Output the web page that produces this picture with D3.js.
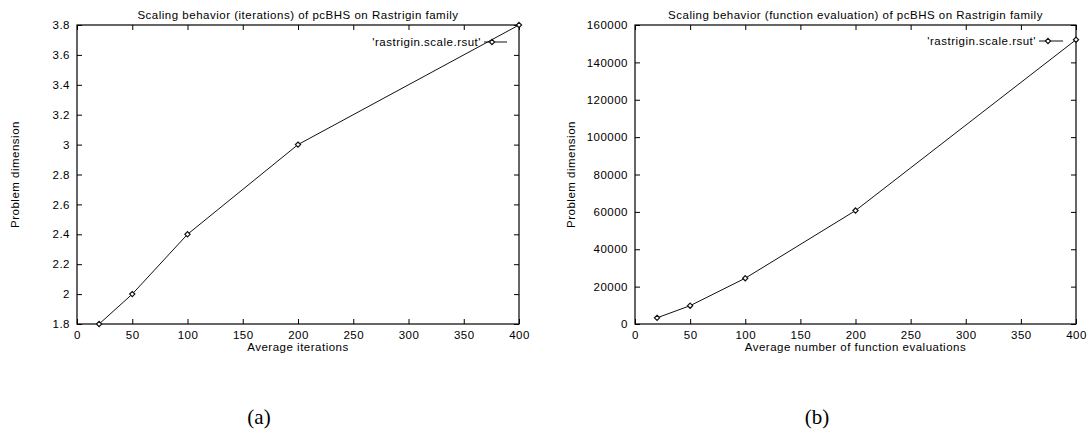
<!DOCTYPE html>
<html>
<head>
<meta charset="utf-8">
<script src="https://cdn.jsdelivr.net/npm/d3@7"></script>
<style>
  html, body { margin: 0; padding: 0; background: #fff; }
  svg { display: block; }
  text { font-family: "Liberation Sans", Arial, sans-serif; fill: #000; }
  .lbl { letter-spacing: 0.5px; }
  .caption { font-family: "Liberation Serif", "DejaVu Serif", serif; }
</style>
</head>
<body>
<svg id="chart" width="1089" height="432"></svg>
<script>
// Problem dimensions tested on the Rastrigin family
const dimensions = [20, 50, 100, 200, 400];
// Average iterations per dimension
const avgIterations = [1.8, 2.0, 2.4, 3.0, 3.8];
// Average function evaluations per dimension
const avgEvaluations = [3300, 9800, 24500, 60700, 152100];

const xTicks = [0, 50, 100, 150, 200, 250, 300, 350, 400];
const yTicksA = [1.8, 2.0, 2.2, 2.4, 2.6, 2.8, 3.0, 3.2, 3.4, 3.6, 3.8];
const yTicksB = [0, 20000, 40000, 60000, 80000, 100000, 120000, 140000, 160000];

const legendLabel = "'rastrigin.scale.rsut'";

const panels = [
  {
    title: "Scaling behavior (iterations) of pcBHS on Rastrigin family",
    xLabel: "Average iterations",
    yLabel: "Problem dimension",
    caption: "(a)",
    left: 77, right: 519, top: 25, bottom: 324,
    yDomain: [1.8, 3.8], yTicks: yTicksA,
    yFormat: v => String(+v.toFixed(1)),
    values: avgIterations,
    yTitleX: 19, legendTextX: 481, legendLine: [484, 507], legendMark: 492, legendY: 42,
    captionX: 259
  },
  {
    title: "Scaling behavior (function evaluation) of pcBHS on Rastrigin family",
    xLabel: "Average number of function evaluations",
    yLabel: "Problem dimension",
    caption: "(b)",
    left: 635, right: 1076, top: 25, bottom: 324,
    yDomain: [0, 160000], yTicks: yTicksB,
    yFormat: v => String(v),
    values: avgEvaluations,
    yTitleX: 575, legendTextX: 1036, legendLine: [1039, 1063], legendMark: 1048, legendY: 41,
    captionX: 817
  }
];

const svg = d3.select("#chart");
const fontSize = 11.5;
const tickLen = 5;

function diamond(sel, r) {
  sel.attr("d", `M0,${-r}L${r},0L0,${r}L${-r},0Z`)
    .attr("fill", "#fff")
    .attr("stroke", "#111")
    .attr("stroke-width", 1.2);
}

panels.forEach(p => {
  const x = d3.scaleLinear().domain([0, 400]).range([p.left, p.right]);
  const y = d3.scaleLinear().domain(p.yDomain).range([p.bottom, p.top]);
  const g = svg.append("g");

  // inward ticks on all four sides, labels on bottom and left only
  const styleAxis = sel => {
    sel.select(".domain").remove();
    sel.selectAll(".tick line").attr("stroke", "#000").attr("stroke-width", 1);
    sel.selectAll("text")
      .attr("class", "lbl")
      .attr("font-size", fontSize)
      .attr("font-family", "Liberation Sans, Arial, sans-serif");
  };

  g.append("g").attr("transform", `translate(0,${p.bottom})`)
    .call(d3.axisBottom(x).tickValues(xTicks).tickSize(-tickLen).tickPadding(7).tickFormat(d3.format("d")))
    .call(styleAxis);
  g.append("g").attr("transform", `translate(0,${p.top})`)
    .call(d3.axisTop(x).tickValues(xTicks).tickSize(-tickLen).tickFormat(""))
    .call(styleAxis);
  g.append("g").attr("transform", `translate(${p.left},0)`)
    .call(d3.axisLeft(y).tickValues(p.yTicks).tickSize(-tickLen).tickPadding(7).tickFormat(p.yFormat))
    .call(styleAxis);
  g.append("g").attr("transform", `translate(${p.right},0)`)
    .call(d3.axisRight(y).tickValues(p.yTicks).tickSize(-tickLen).tickFormat(""))
    .call(styleAxis);

  // plot border
  g.append("rect")
    .attr("x", p.left).attr("y", p.top)
    .attr("width", p.right - p.left).attr("height", p.bottom - p.top)
    .attr("fill", "none").attr("stroke", "#000").attr("stroke-width", 1.2);

  // data line and markers
  const pts = dimensions.map((d, i) => [d, p.values[i]]);
  g.append("path")
    .datum(pts)
    .attr("fill", "none")
    .attr("stroke", "#111")
    .attr("stroke-width", 1)
    .attr("d", d3.line().x(d => x(d[0])).y(d => y(d[1])));
  g.selectAll(".pt").data(pts).enter().append("path")
    .attr("class", "pt")
    .attr("transform", d => `translate(${x(d[0])},${y(d[1])})`)
    .call(diamond, 2.6);

  // key
  g.append("text")
    .attr("class", "lbl")
    .attr("x", p.legendTextX).attr("y", p.legendY + 4)
    .attr("text-anchor", "end").attr("font-size", fontSize)
    .text(legendLabel);
  g.append("line")
    .attr("x1", p.legendLine[0]).attr("x2", p.legendLine[1])
    .attr("y1", p.legendY).attr("y2", p.legendY)
    .attr("stroke", "#111").attr("stroke-width", 1);
  g.append("path")
    .attr("transform", `translate(${p.legendMark},${p.legendY})`)
    .call(diamond, 2.6);

  // titles
  const cx = (p.left + p.right) / 2;
  g.append("text")
    .attr("class", "lbl")
    .attr("x", cx).attr("y", 19)
    .attr("text-anchor", "middle").attr("font-size", fontSize)
    .text(p.title);
  g.append("text")
    .attr("class", "lbl")
    .attr("x", cx).attr("y", 351)
    .attr("text-anchor", "middle").attr("font-size", fontSize)
    .text(p.xLabel);
  g.append("text")
    .attr("class", "lbl")
    .attr("transform", `translate(${p.yTitleX},${(p.top + p.bottom) / 2}) rotate(-90)`)
    .attr("text-anchor", "middle").attr("font-size", fontSize)
    .text(p.yLabel);

  // sub-figure caption
  g.append("text")
    .attr("class", "caption")
    .attr("x", p.captionX).attr("y", 424)
    .attr("text-anchor", "middle").attr("font-size", 21)
    .text(p.caption);
});
</script>
</body>
</html>
